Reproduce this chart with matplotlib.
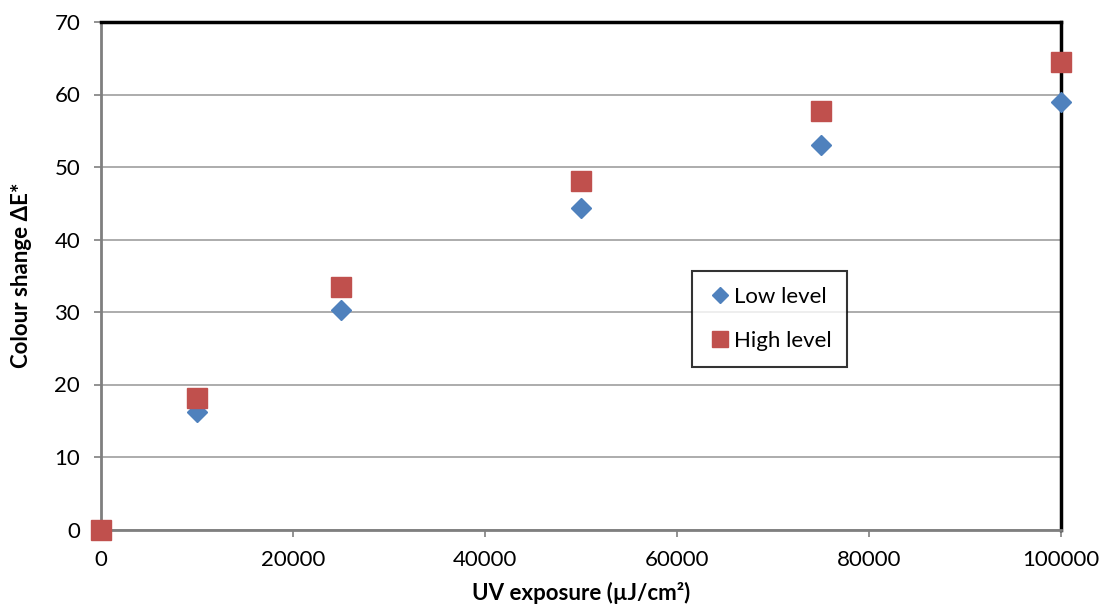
import matplotlib.pyplot as plt

plt.rcParams['font.family'] = ['Lato', 'DejaVu Sans']

uv = [0, 10000, 25000, 50000, 75000, 100000]
low = [0, 16.2, 30.3, 44.3, 53.0, 59.0]
high = [0, 18.1, 33.4, 48.1, 57.7, 64.5]

fig = plt.figure(figsize=(11.1, 6.08), dpi=100)
ax = fig.add_axes([101 / 1110, 1 - 529.5 / 608, 960 / 1110, 507.5 / 608])

ax.plot(uv, low, 'D', color='#4F81BD', ms=10, label='Low level', clip_on=False, zorder=3)
ax.plot(uv, high, 's', color='#C0504D', ms=14, label='High level', clip_on=False, zorder=4)

ax.set_xlim(0, 100000)
ax.set_ylim(0, 70)
ax.set_xticks(range(0, 100001, 20000))
ax.set_yticks(range(0, 71, 10))
ax.grid(axis='y', color='#A6A6A6', lw=1.3)
ax.set_axisbelow(True)

for s in ['left', 'bottom']:
    ax.spines[s].set_color('#7F7F7F')
    ax.spines[s].set_linewidth(2)
for s in ['top', 'right']:
    ax.spines[s].set_color('black')
    ax.spines[s].set_linewidth(2.5)

ax.tick_params(axis='both', direction='out', length=5, width=1.2, color='#7F7F7F',
               labelsize=16, pad=10)

ax.set_xlabel('UV exposure (µJ/cm²)', fontsize=16, fontweight='bold', labelpad=8)
ax.set_ylabel('Colour shange ΔE*', fontsize=16, fontweight='bold', labelpad=16)

leg = ax.legend(loc='upper left', bbox_to_anchor=(591 / 960, 1 - 249 / 507.5),
                borderaxespad=0, fontsize=16, frameon=True, fancybox=False,
                handletextpad=0.1, labelspacing=1.1, borderpad=0.7,
                handlelength=1.1, markerscale=0.85)
leg.get_frame().set_edgecolor('black')
leg.get_frame().set_linewidth(1.5)

fig.savefig('out.png', dpi=100)
